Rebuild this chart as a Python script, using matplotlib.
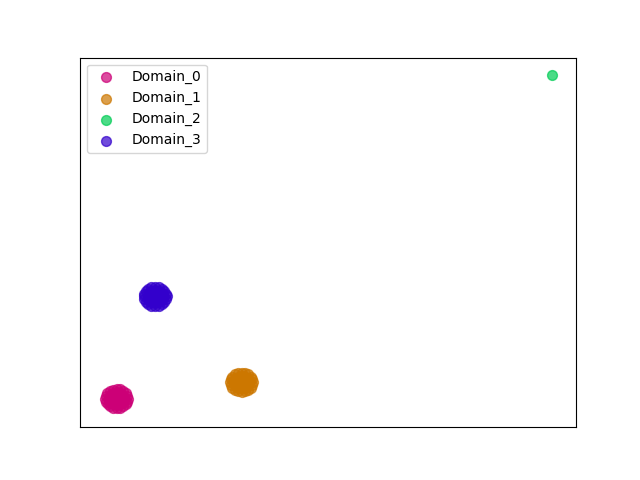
import matplotlib
matplotlib.use("Agg")
import matplotlib.pyplot as plt

# embedding coordinates per domain
domain0_x = [4.80, 4.70, 4.58, 4.33, 4.01, 3.65, 3.29, 2.97, 2.72, 2.56, 2.50, 2.56, 2.75, 2.97, 3.29, 3.65, 4.01, 4.33, 4.58, 4.74,
             4.40, 4.30, 4.03, 3.65, 3.27, 3.00, 2.90, 3.00, 3.27, 3.65, 4.03, 4.30,
             3.95, 3.65, 3.35, 3.35, 3.65, 3.95, 3.65]
domain0_y = [2.85, 3.14, 3.41, 3.62, 3.78, 3.80, 3.75, 3.62, 3.41, 3.14, 2.85, 2.56, 2.29, 2.08, 1.95, 1.90, 1.95, 2.08, 2.29, 2.56,
             2.85, 3.16, 3.39, 3.47, 3.39, 3.16, 2.85, 2.54, 2.31, 2.23, 2.31, 2.54,
             3.00, 3.14, 3.00, 2.70, 2.56, 2.70, 2.85]

domain1_x = [17.30, 17.24, 17.08, 16.83, 16.51, 16.15, 15.79, 15.47, 15.22, 15.06, 15.00, 15.06, 15.22, 15.47, 15.79, 16.15, 16.51, 16.83, 17.08, 17.24,
             16.90, 16.80, 16.53, 16.15, 15.77, 15.50, 15.40, 15.50, 15.77, 16.15, 16.53, 16.80,
             16.45, 16.15, 15.85, 15.85, 16.15, 16.45, 16.15]
domain1_y = [4.50, 4.79, 5.06, 5.27, 5.40, 5.45, 5.40, 5.27, 5.06, 4.79, 4.50, 4.21, 3.94, 3.73, 3.60, 3.55, 3.60, 3.73, 3.94, 4.21,
             4.50, 4.81, 5.04, 5.12, 5.04, 4.81, 4.50, 4.19, 3.96, 3.88, 3.96, 4.19,
             4.65, 4.79, 4.65, 4.35, 4.21, 4.35, 4.50]

domain2_x = [47.2]
domain2_y = [35.2]

domain3_x = [8.65, 8.59, 8.43, 8.18, 7.86, 7.50, 7.14, 6.82, 6.57, 6.41, 6.35, 6.41, 6.57, 6.82, 7.14, 7.50, 7.86, 8.18, 8.43, 8.59,
             8.25, 8.15, 7.88, 7.50, 7.12, 6.85, 6.75, 6.85, 7.12, 7.50, 7.88, 8.15,
             7.80, 7.50, 7.20, 7.20, 7.50, 7.80, 7.50]
domain3_y = [13.05, 13.34, 13.61, 13.82, 13.95, 14.00, 13.95, 13.82, 13.61, 13.34, 13.05, 12.76, 12.49, 12.28, 12.15, 12.10, 12.15, 12.28, 12.49, 12.76,
             13.05, 13.36, 13.59, 13.67, 13.59, 13.36, 13.05, 12.74, 12.51, 12.43, 12.51, 12.74,
             13.20, 13.34, 13.20, 12.90, 12.76, 12.90, 13.05]

labels = ["Domain_0", "Domain_1", "Domain_2", "Domain_3"]
colors = ["#cc0077", "#cc7700", "#00cc55", "#3300cc"]

xs = [domain0_x, domain1_x, domain2_x, domain3_x]
ys = [domain0_y, domain1_y, domain2_y, domain3_y]

fig = plt.figure(figsize=(6.4, 4.8), dpi=100)
for x, y, c, lab in zip(xs, ys, colors, labels):
    plt.scatter(x, y, c=c, s=50, alpha=0.7, label=lab)

plt.xlim(0, 49.6)
plt.ylim(0, 36.9)
plt.xticks([])
plt.yticks([])
plt.legend(loc="upper left")
plt.savefig("out.png", dpi=100)
